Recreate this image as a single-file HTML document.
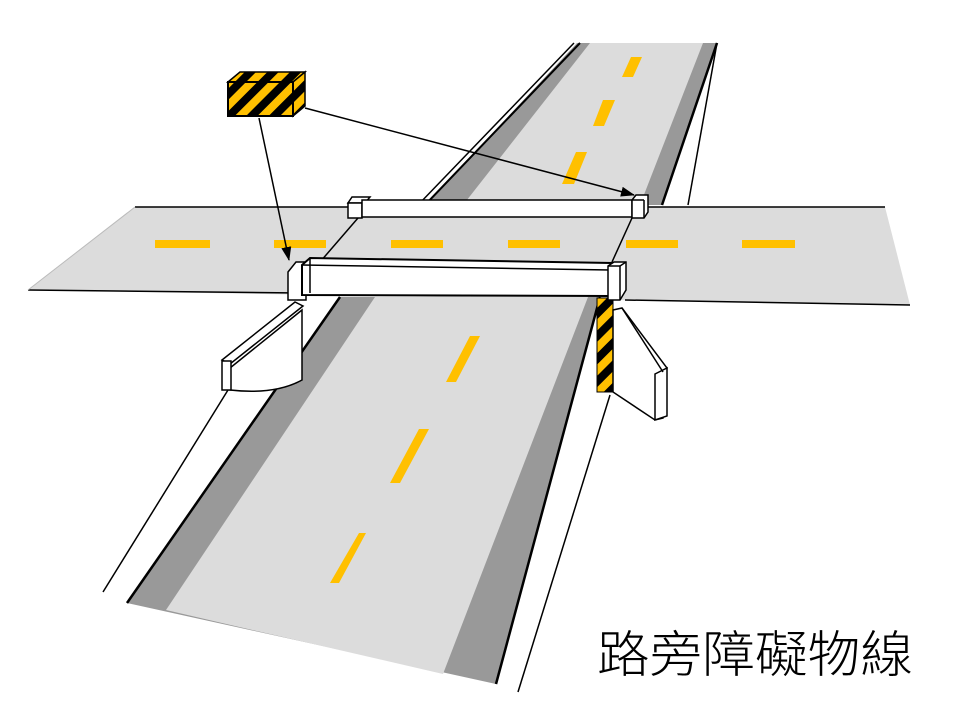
<!DOCTYPE html>
<html><head><meta charset="utf-8"><style>html,body{margin:0;padding:0;background:#fff}svg{display:block}</style></head><body>
<svg width="960" height="720" viewBox="0 0 960 720" xmlns="http://www.w3.org/2000/svg">
<defs>
<pattern id="hz" patternUnits="userSpaceOnUse" width="16" height="16" patternTransform="rotate(45)">
<rect width="16" height="16" fill="#ffc000"/><rect width="8" height="16" fill="#000"/>
</pattern>
<marker id="ah" markerWidth="14" markerHeight="10" refX="13" refY="5" orient="auto" markerUnits="userSpaceOnUse"><path d="M0,0 L14,5 L0,10 Z" fill="#000"/></marker>
</defs>
<polygon points="577,43 717,43 662,205 425,205" fill="#999"/>
<polygon points="590,43 703,43 640,205 463,205" fill="#dcdcdc"/>
<line x1="580" y1="43" x2="425" y2="205" stroke="#000" stroke-width="2"/>
<line x1="574" y1="43" x2="418" y2="205" stroke="#000" stroke-width="1.5"/>
<line x1="717" y1="43" x2="662" y2="205" stroke="#000" stroke-width="2.5"/>
<line x1="717" y1="43" x2="688" y2="205" stroke="#000" stroke-width="1.5"/>
<g fill="#ffc000">
<polygon points="631,57 642,57 633,77 622,77"/>
<polygon points="603,100 615,100 604,126 593,126"/>
<polygon points="576,152 587,152 574,184 562,184"/>
</g>
<polygon points="135,207 885,207 910,305 28,290" fill="#dcdcdc"/>
<line x1="135" y1="207" x2="885" y2="207" stroke="#000" stroke-width="1.5"/>
<line x1="28" y1="290" x2="300" y2="293" stroke="#000" stroke-width="1.5"/>
<line x1="625" y1="300" x2="910" y2="305" stroke="#000" stroke-width="1.5"/>
<line x1="135" y1="207" x2="28" y2="290" stroke="#bbb" stroke-width="1"/>
<g fill="#ffc000">
<rect x="155" y="240" width="55" height="8"/>
<rect x="274" y="240" width="52" height="8"/>
<rect x="391" y="240" width="52" height="8"/>
<rect x="508" y="240" width="52" height="8"/>
<rect x="626" y="240" width="52" height="8"/>
<rect x="742" y="240" width="53" height="8"/>
</g>
<line x1="358" y1="218" x2="320" y2="262" stroke="#000" stroke-width="1.5"/>
<line x1="632" y1="218" x2="612" y2="262" stroke="#000" stroke-width="1.5"/>
<polygon points="340,297 600,297 496,684 127,603" fill="#999"/>
<polygon points="375,297 588,297 443,674 166,610" fill="#dcdcdc"/>
<line x1="340" y1="297" x2="127" y2="603" stroke="#000" stroke-width="2.5"/>
<line x1="600" y1="297" x2="496" y2="684" stroke="#000" stroke-width="2.5"/>
<line x1="610" y1="395" x2="518" y2="692" stroke="#000" stroke-width="1.5"/>
<line x1="228" y1="390" x2="103" y2="592" stroke="#000" stroke-width="1.5"/>
<g fill="#ffc000">
<polygon points="470,336 480,336 456,382 446,382"/>
<polygon points="419,429 429,429 400,483 390,483"/>
<polygon points="359,533 366,533 339,583 330,583"/>
</g>
<path d="M230,390 Q275,395 302,380 L302,310 L230,368 Z" fill="#fff" stroke="#000" stroke-width="1.5"/>
<polygon points="222,360 295,302 303,306 230,364" fill="#fff" stroke="#000" stroke-width="1.5"/>
<rect x="222" y="361" width="9" height="29" fill="#fff" stroke="#000" stroke-width="1.5"/>
<rect x="597" y="298" width="16" height="94" fill="url(#hz)" stroke="#000" stroke-width="1"/>
<polygon points="613,310 622,308 667,368 663,372 663,418 655,420 613,392" fill="#fff" stroke="#000" stroke-width="1.5"/>
<polygon points="655,374 667,368 667,416 655,420" fill="#fff" stroke="#000" stroke-width="1.5"/>
<line x1="622" y1="308" x2="663" y2="372" stroke="#000" stroke-width="1.5"/>
<polygon points="352,197 370,197 365,203 348,203" fill="#fff" stroke="#000" stroke-width="1.5"/>
<rect x="348" y="203" width="14" height="15" fill="#fff" stroke="#000" stroke-width="1.5"/>
<rect x="362" y="200" width="270" height="17" fill="#fff" stroke="#000" stroke-width="1.5"/>
<polygon points="636,195 648,195 648,212 644,218 632,218 632,200" fill="#fff" stroke="#000" stroke-width="1.5"/>
<line x1="632" y1="200" x2="644" y2="200" stroke="#000" stroke-width="1.5"/>
<line x1="644" y1="200" x2="644" y2="218" stroke="#000" stroke-width="1.5"/>
<polygon points="288,272 296,262 306,262 306,300 288,300" fill="#fff" stroke="#000" stroke-width="1.5"/>
<polygon points="302,265 310,258 612,263 610,296 302,295" fill="#fff" stroke="#000" stroke-width="2"/>
<line x1="310" y1="258" x2="310" y2="293" stroke="#000" stroke-width="1.5"/>
<line x1="302" y1="265" x2="610" y2="270" stroke="#000" stroke-width="1.5"/>
<polygon points="608,266 614,262 626,262 626,290 620,300 608,300" fill="#fff" stroke="#000" stroke-width="1.5"/>
<line x1="608" y1="266" x2="620" y2="266" stroke="#000" stroke-width="1.5"/>
<line x1="620" y1="266" x2="620" y2="300" stroke="#000" stroke-width="1.5"/>
<line x1="620" y1="266" x2="626" y2="262" stroke="#000" stroke-width="1.5"/>
<polygon points="228,82 240,72 305,72 293,82" fill="url(#hz)" stroke="#000" stroke-width="1.5"/>
<polygon points="293,82 305,72 305,106 293,116" fill="url(#hz)" stroke="#000" stroke-width="1.5"/>
<rect x="228" y="82" width="65" height="34" fill="url(#hz)" stroke="#000" stroke-width="2"/>
<line x1="259" y1="118" x2="289" y2="260" stroke="#000" stroke-width="1.5" marker-end="url(#ah)"/>
<line x1="305" y1="108" x2="634" y2="195" stroke="#000" stroke-width="1.5" marker-end="url(#ah)"/>
<text x="597" y="672" font-family="'Liberation Sans','Noto Sans CJK TC',sans-serif" font-size="50" font-weight="300" fill="#000" textLength="316" lengthAdjust="spacingAndGlyphs">路旁障礙物線</text>
</svg>
</body></html>
